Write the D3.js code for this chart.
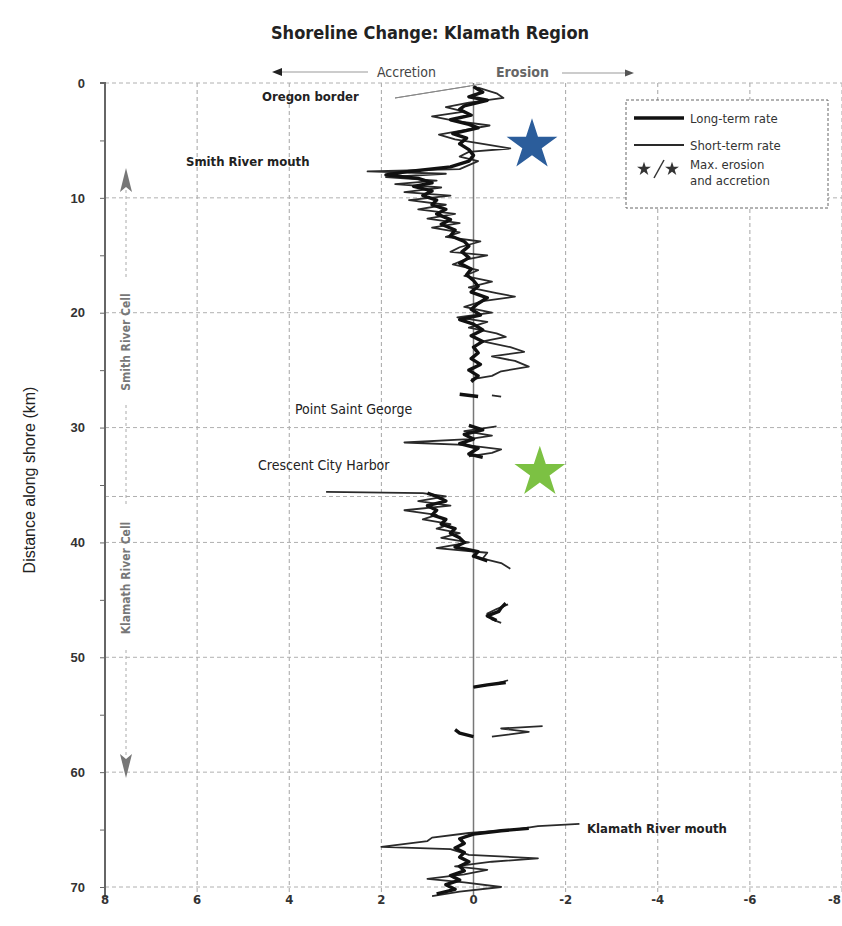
<!DOCTYPE html>
<meta charset="utf-8">
<style>
  body { margin: 0; background: #fff; }
  svg { font-family: "Liberation Sans Narrow", "DejaVu Sans Condensed", "Arial Narrow", sans-serif; }
  .grid line { stroke: #a5a5a5; stroke-dasharray: 4,3; stroke-width: 1; }
  .tick-lbl { font-size: 13px; font-weight: bold; fill: #333; }
  .note { font-size: 13px; font-weight: bold; fill: #222; }
</style>
<body>
<svg width="842" height="926"></svg>
<script src="https://d3js.org/d3.v7.min.js"></script>
<script>
// axis ticks
var xTicks = [8, 6, 4, 2, 0, -2, -4, -6, -8];
var yTicks = [0, 10, 20, 30, 40, 50, 60, 70];

// long-term rate (m/yr) along shore, null = no data
var longKm   = [0.3, 0.8, 1.2, 1.5, 2.0, 2.3, 2.8, 3.2, 3.6, 3.9, 4.4, 4.8, 5.3, 5.8, 6.3, 6.8, 7.3, 7.7, 8.0, 8.3, 8.7, 9.0, 9.4, 9.8, 10.2, 10.6, 11.0, 11.4, 11.9, 12.3, 12.8, 13.3, 13.8, 14.2, 14.7, 15.2, 15.7, 16.2, 16.7, 17.2, 17.7, 18.2, 18.7, 19.2, 19.7, 20.2, 20.6, 21.0, 21.5, 22.0, 22.5, 23.0, 23.5, 24.0, 24.5, 25.0, 25.5, 26.0, 26.5,
                27.1, 27.3, 27.6,
                29.8, 30.2, 30.6, 31.0, 31.4, 31.8, 32.3, 32.6, 33.0,
                35.7, 36.0, 36.4, 36.8, 37.2, 37.6, 38.0, 38.4, 38.8, 39.2, 39.6, 40.0, 40.4, 40.8, 41.2, 41.6, 42.0,
                45.3, 45.7, 46.0, 46.4, 46.8, 47.2,
                52.2, 52.4, 52.6, 53.0,
                56.3, 56.6, 56.9, 57.3,
                64.9, 65.1, 65.4, 65.8, 66.2, 66.6, 67.0, 67.4, 67.8, 68.2, 68.6, 69.0, 69.4, 69.8, 70.2, 70.6];
var longRate = [0, -0.2, 0.1, -0.3, 0.2, 0.3, 0.05, 0.5, 0.1, -0.1, 0.45, 0.15, 0.3, 0.1, 0, 0.1, 0.5, 1.4, 1.9, 1.2, 0.9, 1.3, 0.9, 1.1, 0.8, 0.9, 0.6, 0.8, 0.5, 0.7, 0.4, 0.5, 0.2, 0.1, 0.25, 0.1, 0.3, 0.05, 0.15, 0, -0.1, 0.05, -0.3, -0.1, 0.05, -0.15, 0.3, 0, -0.2, 0.05, -0.2, 0, -0.1, 0.05, -0.15, 0.1, -0.1, 0.05, null,
                0.3, -0.1, null,
                0.1, -0.2, 0.2, 0, 0.3, -0.1, 0.1, -0.2, null,
                1.0, 0.8, 0.6, 1.0, 0.8, 0.9, 0.6, 0.7, 0.4, 0.5, 0.3, 0.2, 0.4, -0.1, 0, -0.3, null,
                -0.7, -0.6, -0.55, -0.3, -0.5, null,
                -0.7, -0.3, 0, null,
                0.4, 0.3, 0, null,
                -1.2, -0.6, 0, 0.3, 0.2, 0.4, 0.2, 0.3, 0.1, 0.3, 0.2, 0.5, 0.3, 0.6, 0.4, 0.8];

// short-term rate (m/yr) along shore
var shortKm   = [0.4, 0.9, 1.3, 1.7, 2.1, 2.5, 2.9, 3.3, 3.7, 4.1, 4.5, 4.9, 5.3, 5.7, 6.0, 6.4, 6.8, 7.5, 7.7, 7.9, 8.2, 8.5, 8.8, 9.1, 9.5, 9.8, 10.2, 10.6, 11.0, 11.4, 11.8, 12.2, 12.6, 13.0, 13.4, 13.8, 14.3, 14.7, 15.0, 15.4, 15.8, 16.3, 16.8, 17.3, 17.8, 18.3, 18.6, 19.0, 19.5, 20.0, 20.4, 20.8, 21.3, 21.8, 22.1, 22.5, 23.0, 23.4, 23.8, 24.2, 24.7, 25.1, 25.5, 25.8, 26.2,
                 27.2, 27.3, 27.6,
                 29.9, 30.3, 30.7, 31.0, 31.3, 31.5, 31.9, 32.2, 32.5, 33.0,
                 35.6, 35.7, 36.0, 36.4, 36.8, 37.2, 37.6, 38.0, 38.4, 38.8, 39.2, 39.6, 40.0, 40.5, 40.9, 41.4, 41.8, 42.3, 42.8,
                 45.4, 45.8, 46.2, 46.7, 47.0, 47.4,
                 52.0, 52.3, 52.6, 53.0,
                 56.0, 56.2, 56.5, 56.9, 57.3,
                 64.5, 64.7, 65.0, 65.3, 65.7, 66.0, 66.5, 66.7, 67.2, 67.5, 67.8, 68.2, 68.5, 68.9, 69.3, 69.6, 70.0, 70.4, 70.8];
var shortRate = [-0.1, -0.5, -0.65, 0.1, 0.6, 0.2, 0.9, 0.4, -0.35, 0.2, 0.75, 0.4, -0.2, -0.8, 0.1, 0.3, -0.1, 0.3, 2.3, 0.6, 1.9, 0.8, 1.7, 0.7, 1.5, 0.5, 1.4, 0.6, 1.2, 0.4, 1.0, 0.3, 0.9, 0.3, 0.6, -0.15, 0.3, 0.5, -0.3, 0.2, 0.45, -0.1, 0.2, -0.4, 0.1, -0.5, -0.9, -0.2, 0.2, -0.4, 0.35, -0.3, 0.1, -0.5, -0.7, -0.2, -0.8, -1.1, -0.4, -0.9, -1.2, -0.6, -0.4, 0.05, null,
                 -0.4, -0.6, null,
                 -0.5, 0.2, -0.4, 0.1, 1.5, 0.2, -0.6, -0.4, 0.1, null,
                 3.2, 1.1, 0.6, 1.2, 0.5, 1.5, 0.8, 1.1, 0.5, 0.8, 0.3, 0.7, 0.1, 0.8, -0.3, -0.2, -0.6, -0.8, null,
                 -0.75, -0.5, -0.3, -0.4, -0.6, null,
                 -0.75, -0.5, 0, null,
                 -1.5, -0.6, -1.2, -0.4, null,
                 -2.3, -1.4, -0.9, 0.1, 0.9, 1.0, 2.0, 0.5, 0.1, -1.4, -0.4, 0.4, -0.3, 0.2, 1.0, 0.2, -0.6, 0.3, 0.9];

// maximum erosion / accretion markers
var maxKm   = [5.4, 33.9];
var maxRate = [-1.27, -1.44];

var svg = d3.select("svg");
var x = d3.scaleLinear().domain([8, -8]).range([105, 842]);
var y = d3.scaleLinear().domain([0, 70]).range([83, 887]);

// title
svg.append("text").attr("x", 430).attr("y", 39).attr("text-anchor", "middle")
  .style("font-size", "18px").style("font-weight", "bold").attr("fill", "#222")
  .text("Shoreline Change: Klamath Region");

// grid
var grid = svg.append("g").attr("class", "grid");
grid.selectAll(".v").data(xTicks.filter(function (d) { return d !== 8 && d !== 0; })).enter().append("line")
  .attr("x1", function (d) { return x(d); }).attr("x2", function (d) { return x(d); })
  .attr("y1", y(0)).attr("y2", y(70) + 8);
grid.selectAll(".h").data(yTicks.concat([36])).enter().append("line")
  .attr("x1", x(8)).attr("x2", 842)
  .attr("y1", function (d) { return y(d); }).attr("y2", function (d) { return y(d); })
  .style("stroke", "#b0b0b0");

// zero line
svg.append("line").attr("x1", x(0)).attr("x2", x(0)).attr("y1", y(0)).attr("y2", y(70) + 8)
  .attr("stroke", "#777").attr("stroke-width", 1.5);

// y axis
var yAxis = d3.axisLeft(y).tickValues(d3.range(0, 71, 5)).tickSize(5).tickFormat(function (d) { return d % 10 === 0 ? d : ""; });
var ya = svg.append("g").attr("transform", "translate(" + x(8) + ",0)").call(yAxis);
ya.select(".domain").attr("stroke", "#666").attr("stroke-width", 2).attr("d", "M-5," + y(0) + "H0V" + (y(70) + 10));
ya.selectAll(".tick line").attr("stroke", "#666");
ya.selectAll(".tick text").attr("class", "tick-lbl").attr("x", -20);

// x tick labels (last one pinned to the right edge)
svg.selectAll(".xl").data(xTicks).enter().append("text").attr("class", "tick-lbl")
  .attr("x", function (d) { return d === -8 ? 841 : x(d); }).attr("y", 904)
  .attr("text-anchor", function (d) { return d === -8 ? "end" : "middle"; })
  .text(function (d) { return d; });

// y label
svg.append("text").attr("transform", "translate(35,480) rotate(-90)").attr("text-anchor", "middle")
  .style("font-family", "Liberation Sans, Arial, sans-serif").style("font-size", "16px").attr("fill", "#222")
  .text("Distance along shore (km)");

// series
var rateLine = d3.line().defined(function (d) { return d[1] != null; })
  .x(function (d) { return x(d[1]); }).y(function (d) { return y(d[0]); });
svg.append("path").datum(d3.zip(shortKm, shortRate)).attr("d", rateLine)
  .attr("fill", "none").attr("stroke", "#2a2a2a").attr("stroke-width", 1.8).attr("stroke-linejoin", "round");
svg.append("path").datum(d3.zip(longKm, longRate)).attr("d", rateLine)
  .attr("fill", "none").attr("stroke", "#111").attr("stroke-width", 3.4).attr("stroke-linejoin", "round");

// stars
var star = d3.symbol().type(d3.symbolStar).size(800);
svg.selectAll(".star").data(d3.zip(maxKm, maxRate)).enter().append("path")
  .attr("d", star)
  .attr("transform", function (d) { return "translate(" + x(d[1]) + "," + y(d[0]) + ")"; })
  .attr("fill", function (d, i) { return i === 0 ? "#2b5d9b" : "#7cc143"; });

// accretion / erosion arrows
svg.append("path").attr("d", "M272,72l10,-4v8z").attr("fill", "#222");
svg.append("line").attr("x1", 282).attr("x2", 368).attr("y1", 72).attr("y2", 72).attr("stroke", "#999");
svg.append("text").attr("x", 377).attr("y", 77).style("font-size", "14px").attr("fill", "#444").text("Accretion");
svg.append("text").attr("x", 496).attr("y", 77).style("font-size", "14px").style("font-weight", "bold").attr("fill", "#666").text("Erosion");
svg.append("line").attr("x1", 562).attr("x2", 626).attr("y1", 73).attr("y2", 73).attr("stroke", "#999");
svg.append("path").attr("d", "M634,73l-9,-3.5v7z").attr("fill", "#555");

// annotations
svg.append("text").attr("class", "note").attr("x", 262).attr("y", 101).text("Oregon border");
svg.append("path").attr("d", "M395,98L470,86M395,98L482,84").attr("stroke", "#888").attr("fill", "none");
svg.append("text").attr("class", "note").attr("x", 186).attr("y", 166).text("Smith River mouth");
svg.append("text").attr("class", "note").attr("x", 295).attr("y", 414).style("font-weight", "normal").style("font-size", "14px").text("Point Saint George");
svg.append("text").attr("class", "note").attr("x", 258).attr("y", 470).style("font-weight", "normal").style("font-size", "14px").text("Crescent City Harbor");
svg.append("text").attr("class", "note").attr("x", 587).attr("y", 833).text("Klamath River mouth");

// littoral cells on the left
var cx = 126;
svg.append("path").attr("d", "M" + cx + ",168l-6,24l6,-5l6,5z").attr("fill", "#777");
svg.append("path").attr("d", "M" + cx + ",778l-6,-24l6,5l6,-5z").attr("fill", "#777");
svg.append("path").attr("d", "M" + cx + ",190V280M" + cx + ",405V505M" + cx + ",650V758")
  .attr("stroke", "#aaa").attr("stroke-dasharray", "3,3");
svg.append("text").attr("transform", "translate(" + (cx + 4) + ",342) rotate(-90)").attr("text-anchor", "middle")
  .style("font-size", "12px").style("font-weight", "bold").attr("fill", "#777").text("Smith River Cell");
svg.append("text").attr("transform", "translate(" + (cx + 4) + ",578) rotate(-90)").attr("text-anchor", "middle")
  .style("font-size", "12px").style("font-weight", "bold").attr("fill", "#777").text("Klamath River Cell");

// legend
var lg = svg.append("g").attr("transform", "translate(626,100)");
lg.append("rect").attr("width", 202).attr("height", 108).attr("fill", "#fff")
  .attr("stroke", "#666").attr("stroke-dasharray", "3,2");
lg.append("line").attr("x1", 8).attr("x2", 58).attr("y1", 18).attr("y2", 18).attr("stroke", "#111").attr("stroke-width", 3.4);
lg.append("line").attr("x1", 8).attr("x2", 58).attr("y1", 45).attr("y2", 45).attr("stroke", "#2a2a2a").attr("stroke-width", 1.8);
lg.append("path").attr("d", d3.symbol().type(d3.symbolStar).size(60)).attr("transform", "translate(18,69)").attr("fill", "#333");
lg.append("path").attr("d", "M28,78L38,60").attr("stroke", "#333").attr("stroke-width", 1.5);
lg.append("path").attr("d", d3.symbol().type(d3.symbolStar).size(60)).attr("transform", "translate(46,69)").attr("fill", "#333");
var lt = [["Long-term rate", 23], ["Short-term rate", 50], ["Max. erosion", 69], ["and accretion", 85]];
lg.selectAll(".lt").data(lt).enter().append("text")
  .attr("x", 64).attr("y", function (d) { return d[1]; })
  .style("font-size", "13px").attr("fill", "#333").text(function (d) { return d[0]; });
</script>
</body>
